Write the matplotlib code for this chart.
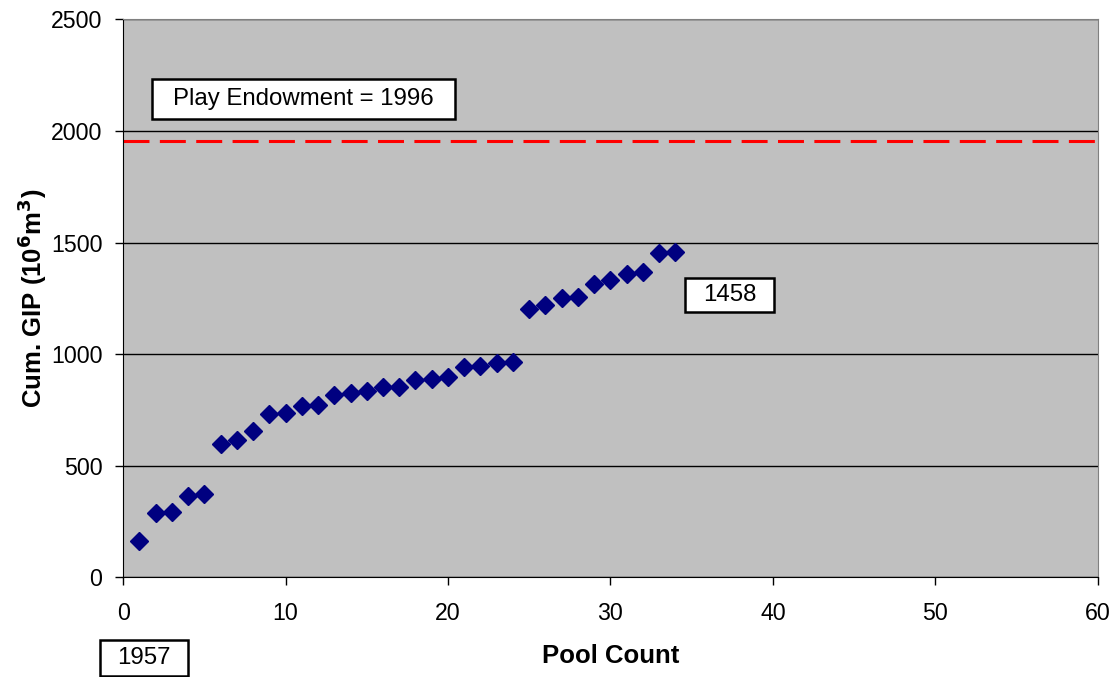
import matplotlib
matplotlib.use('Agg')
import matplotlib.pyplot as plt
from matplotlib.patches import Rectangle
import numpy as np

# Data
pool_count = list(range(1, 35))
cum_gip = [162, 289, 292, 365, 370, 596, 615, 654, 733, 736,
           765, 772, 816, 827, 834, 852, 854, 883, 889, 899,
           943, 944, 961, 965, 1203, 1220, 1251, 1256, 1312, 1333,
           1360, 1368, 1455, 1458]
endowment_line = 1957

plt.rcParams['font.family'] = ['Liberation Sans', 'DejaVu Sans']

W, H = 1119, 677
fig = plt.figure(figsize=(W / 100, H / 100), dpi=100)
ax = fig.add_axes([0.110, 0.1477, 0.871, 0.8235])
ax.set_facecolor('#C0C0C0')

ax.axhline(endowment_line, color='#FF0000', lw=2.2, linestyle=(0, (8.5, 3.4)), zorder=2)
ax.plot(pool_count, cum_gip, linestyle='none', marker='D', markersize=9,
        color='#000080', zorder=3)

ax.set_xlim(0, 60)
ax.set_ylim(0, 2500)
ax.set_xticks(np.arange(0, 61, 10))
ax.set_yticks(np.arange(0, 2501, 500))
ax.yaxis.grid(True, color='black', lw=1)
ax.set_axisbelow(True)
ax.tick_params(direction='out', length=6, width=1, labelsize=16.7)
ax.tick_params(axis='y', pad=9)
ax.tick_params(axis='x', pad=12)

for s in ['top', 'right']:
    ax.spines[s].set_color('#808080')
ax.spines['left'].set_color('black')
ax.spines['bottom'].set_color('black')

ax.set_xlabel('Pool Count', fontsize=18.5, fontweight='bold', labelpad=14)
ax.set_ylabel('Cum. GIP (10$^{\\mathbf{6}}$m$^{\\mathbf{3}}$)', fontsize=18.5,
              fontweight='bold', labelpad=1)


# labelled boxes, given in pixel positions of the figure
def label_box(text, x0, y0, x1, y1):
    fig.patches.append(Rectangle((x0 / W, 1 - y1 / H), (x1 - x0) / W, (y1 - y0) / H,
                                 transform=fig.transFigure, facecolor='white',
                                 edgecolor='black', lw=1.8, zorder=5))
    fig.text((x0 + x1) / 2 / W, 1 - (y0 + y1) / 2 / H, text, fontsize=17.3,
             ha='center', va='center', zorder=6)


label_box('Play Endowment = 1996', 152, 79, 455, 119)
label_box('1458', 685, 278, 774, 312)
label_box('1957', 100, 640, 188, 676)

fig.savefig('out.png', dpi=100)
